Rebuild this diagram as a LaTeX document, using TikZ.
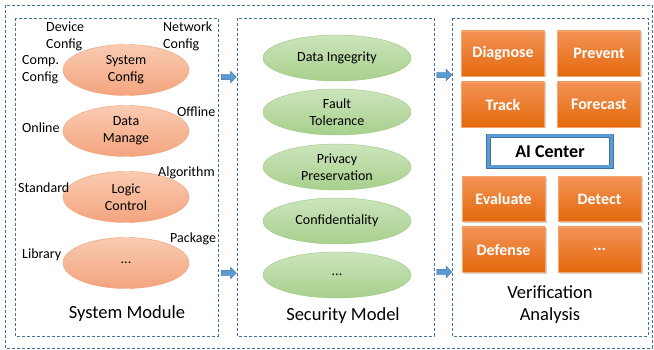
\documentclass[tikz,border=0pt]{standalone}
\usepackage{fontspec}
\setmainfont{Carlito}
\usepackage{tikz}
\usetikzlibrary{shapes,arrows}
\usetikzlibrary{shapes.arrows,shadows}
\usetikzlibrary{positioning}
\definecolor{frameblue}{HTML}{41719C}
\definecolor{systop}{HTML}{F9CBB2}
\definecolor{sysbot}{HTML}{F4A47F}
\definecolor{sysline}{HTML}{F09E70}
\definecolor{sectop}{HTML}{CCE4BC}
\definecolor{secbot}{HTML}{A8D08D}
\definecolor{secline}{HTML}{9CC67E}
\definecolor{acttop}{HTML}{F29255}
\definecolor{actbot}{HTML}{E4690C}
\definecolor{actline}{HTML}{F5A670}
\definecolor{aiblue}{HTML}{5B9BD5}
\definecolor{aidark}{HTML}{41719C}
\definecolor{flowblue}{HTML}{5B9BD5}

\begin{document}
\begin{tikzpicture}[x=1pt, y=-1pt,
		frame/.style={draw=frameblue, line width=0.7pt, dash pattern=on 3pt off 2pt},
		sysell/.style={ellipse, draw=sysline, top color=systop, bottom color=sysbot,
		minimum width=126pt, minimum height=51pt, inner sep=0pt, align=center,
		font=\fontsize{14}{17}\selectfont},
		secell/.style={ellipse, draw=secline, top color=sectop, bottom color=secbot,
		minimum width=148pt, minimum height=46pt, inner sep=0pt, align=center,
		font=\fontsize{14}{17}\selectfont},
		tag/.style={anchor=west, align=left, inner sep=0pt, font=\fontsize{14}{17}\selectfont},
		title/.style={align=center, inner sep=0pt, font=\fontsize{18.5}{22}\selectfont},
		actbox/.style={rectangle, draw=actline, top color=acttop, bottom color=actbot,
		minimum width=83pt, minimum height=45pt, text=white,
		font=\fontsize{16}{19}\selectfont\bfseries,
		drop shadow={shadow xshift=1.5pt, shadow yshift=-1.5pt, opacity=0.35}},
		aibox/.style={rectangle, fill=white, draw=aidark, double=aiblue, double distance=3pt,
		line width=0.6pt, minimum width=123pt, minimum height=31pt,
		font=\fontsize{18}{21}\selectfont\bfseries},
		flow/.style={single arrow, fill=flowblue, draw=aidark, line width=0.4pt,
		inner sep=2.5pt, single arrow head extend=3pt, minimum height=15pt}]
		\useasboundingbox (0,0) rectangle (654,350);
		%% Frames
		\draw [frame] (5,5) rectangle (652,348);
		\draw [frame] (15,18) rectangle (218,336);
		\draw [frame] (237,18) rectangle (434,336);
		\draw [frame] (452,18) rectangle (648,336);
		%% System module
		\node [sysell] (sys) at (126,70) {System\\Config};
		\node [sysell] (data) at (126,131) {Data\\Manage};
		\node [sysell] (logic) at (126,197) {Logic\\Control};
		\node [sysell] (more) at (126,263) {...};
		\node [tag] (dev) at (46,36) {Device\\Config};
		\node [tag] (net) at (163,36) {Network\\Config};
		\node [tag] (comp) at (22,70) {Comp.\\Config};
		\node [tag] (online) at (22,128) {Online};
		\node [tag] (offline) at (177,112) {Offline};
		\node [tag] (algo) at (158,173) {Algorithm};
		\node [tag] (std) at (18,188) {Standard};
		\node [tag] (pkg) at (170,239) {Package};
		\node [tag] (lib) at (22,255) {Library};
		\node [title] (sysname) at (127,314) {System Module};
		%% Security model
		\node [secell] (integ) at (337,58) {Data Ingegrity};
		\node [secell] (fault) at (337,112) {Fault\\Tolerance};
		\node [secell] (priv) at (337,167) {Privacy\\Preservation};
		\node [secell] (conf) at (337,221) {Confidentiality};
		\node [secell] (secmore) at (337,275) {...};
		\node [title] (secname) at (343,316) {Security Model};
		%% Verification analysis
		\node [actbox] (diag) at (503,53.5) {Diagnose};
		\node [actbox] (prev) at (599,53.5) {Prevent};
		\node [actbox] (track) at (503,104.5) {Track};
		\node [actbox] (fore) at (599,104.5) {Forecast};
		\node [aibox] (ai) at (550,151.5) {AI Center};
		\node [actbox] (eval) at (503.5,199) {Evaluate};
		\node [actbox] (detect) at (599.5,199) {Detect};
		\node [actbox] (defense) at (503.5,249.5) {Defense};
		\node [actbox] (actmore) at (599.5,249.5) {...};
		\node [title] (vername) at (550,305) {Verification\\Analysis};
		%% Flow between stages
		\node [flow] (f1) at (227.5,77) {};
		\node [flow] (f2) at (227.5,273) {};
		\node [flow] (f3) at (443,75) {};
		\node [flow] (f4) at (443,272) {};
	\end{tikzpicture}
\end{document}
